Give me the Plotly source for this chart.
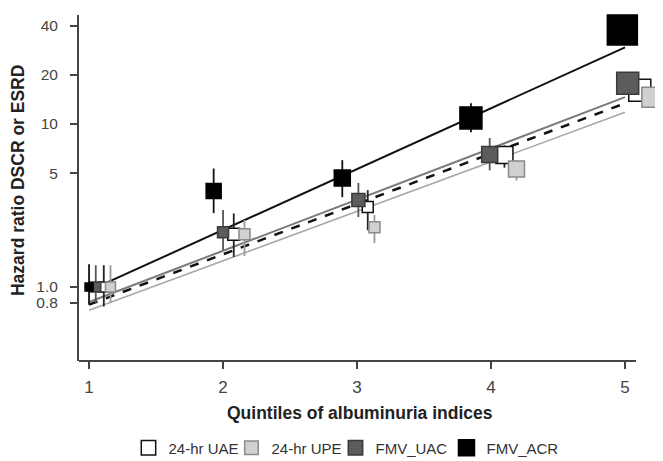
import plotly.graph_objects as go
import numpy as np

# ---- data ----
quintile_ticks = [1, 2, 3, 4, 5]
y_tickvals = [0.8, 1.0, 5, 10, 20, 40]
y_ticktext = ["0.8", "1.0", "5", "10", "20", "40"]

series_names = ["24-hr UAE", "24-hr UPE", "FMV_UAC", "FMV_ACR"]

# plotted x positions (quintile with small dodge offsets)
x_uae = [1.11, 2.08, 3.08, 4.10, 5.11]
x_upe = [1.16, 2.16, 3.13, 4.19, 5.20]
x_uac = [1.05, 2.00, 3.01, 3.99, 5.02]
x_acr = [1.00, 1.93, 2.89, 3.85, 4.98]

hr_uae = [1.0, 2.11, 3.10, 6.45, 16.1]
hr_upe = [1.0, 2.11, 2.33, 5.30, 14.6]
hr_uac = [1.0, 2.17, 3.42, 6.50, 17.8]
hr_acr = [1.0, 3.88, 4.66, 10.9, 37.7]

hi_uae = [1.36, 2.83, 3.93, 7.4, 18.0]
lo_uae = [0.76, 1.53, 2.23, 5.4, 14.0]
hi_upe = [1.36, 2.58, 2.77, 6.0, 16.5]
lo_upe = [0.80, 1.55, 1.86, 4.5, 13.0]
hi_uac = [1.36, 2.97, 4.35, 8.2, 20.0]
lo_uac = [0.80, 1.69, 2.69, 5.2, 16.0]
hi_acr = [1.38, 5.33, 6.00, 13.4, 42.0]
lo_acr = [0.78, 2.84, 3.56, 8.9, 34.0]

# marker sizes (weights)
size_uae = [10, 12, 11, 17, 22]
size_upe = [10, 11, 11, 16, 20]
size_uac = [10, 11, 13, 16, 22]
size_acr = [8, 15, 16, 22, 30]

# fitted trend lines (value at quintile 1 and 5)
trend_x = [1, 5]
trend_uae = [0.78, 13.4]
trend_upe = [0.72, 11.8]
trend_uac = [0.81, 14.6]
trend_acr = [0.95, 29.5]

# x-axis line extent (data units)
x_axis_start, x_axis_end = 0.925, 5.082

fig = go.Figure()

# trend lines
fig.add_trace(go.Scatter(x=trend_x, y=trend_upe, mode="lines", showlegend=False,
                         line=dict(color="#a8a8a8", width=1.6), hoverinfo="skip"))
fig.add_trace(go.Scatter(x=trend_x, y=trend_uac, mode="lines", showlegend=False,
                         line=dict(color="#7a7a7a", width=2), hoverinfo="skip"))
fig.add_trace(go.Scatter(x=trend_x, y=trend_uae, mode="lines", showlegend=False,
                         line=dict(color="#111111", width=2.5, dash="dash"), hoverinfo="skip"))
fig.add_trace(go.Scatter(x=trend_x, y=trend_acr, mode="lines", showlegend=False,
                         line=dict(color="#111111", width=2), hoverinfo="skip"))


def err(hr, hi, lo):
    return ([h - v for h, v in zip(hi, hr)], [v - l for v, l in zip(hr, lo)])


specs = [
    ("24-hr UAE", x_uae, hr_uae, hi_uae, lo_uae, size_uae, "#ffffff", "#111111", "#222222", 58),
    ("24-hr UPE", x_upe, hr_upe, hi_upe, lo_upe, size_upe, "#d0d0d0", "#8a8a8a", "#9a9a9a", 59),
    ("FMV_UAC", x_uac, hr_uac, hi_uac, lo_uac, size_uac, "#5c5c5c", "#3a3a3a", "#555555", 66),
    ("FMV_ACR", x_acr, hr_acr, hi_acr, lo_acr, size_acr, "#000000", "#000000", "#111111", 80),
]

for name, xs, ys, hi, lo, sz, fill, edge, ecol, lw in specs:
    up, dn = err(ys, hi, lo)
    fig.add_trace(go.Scatter(
        x=xs, y=ys, mode="markers", name=name, cliponaxis=False, legendwidth=lw,
        marker=dict(symbol="square", size=sz, color=fill, opacity=1,
                    line=dict(color=edge, width=1.5)),
        error_y=dict(type="data", symmetric=False, array=up, arrayminus=dn,
                     color=ecol, thickness=1.8, width=0),
    ))

# x-axis baseline that stops short of the dodged points beyond quintile 5
fig.add_shape(type="line", xref="x", yref="paper", x0=x_axis_start, x1=x_axis_end,
              y0=0, y1=0, line=dict(color="#444444", width=2), layer="above")

# page body has an 8px default margin: the figure is sized so that it fills the window
fig.update_layout(
    width=655, height=453,
    margin=dict(l=71, r=3, t=7, b=100, autoexpand=False),
    paper_bgcolor="white", plot_bgcolor="white",
    font=dict(family="Liberation Sans, Arial, sans-serif", color="#444444"),
    showlegend=True,
    legend=dict(orientation="h", x=0.4664, xanchor="center", y=-0.2514, yanchor="middle",
                font=dict(size=15, color="#333333"), itemsizing="trace",
                entrywidthmode="pixels",
                tracegroupgap=0, itemwidth=30, borderwidth=0),
    annotations=[
        dict(text="<b>Quintiles of albuminuria indices</b>", xref="paper", yref="paper",
             x=0.4837, y=-0.150, xanchor="center", yanchor="middle", showarrow=False,
             font=dict(size=17.5, color="#222222")),
        dict(text="<b>Hazard ratio DSCR or ESRD</b>", xref="paper", yref="paper",
             x=-0.105, y=0.523, xanchor="center", yanchor="middle", showarrow=False,
             textangle=-90, font=dict(size=17.5, color="#222222")),
    ],
)

fig.update_xaxes(
    range=[0.925, 5.261], tickvals=quintile_ticks, ticktext=[str(t) for t in quintile_ticks],
    showgrid=False, zeroline=False, showline=False,
    ticks="outside", ticklen=7, tickwidth=2, tickcolor="#444444",
    tickfont=dict(size=17, color="#444444"), ticklabelstandoff=4,
)
fig.update_yaxes(
    type="log", range=[np.log10(0.352), np.log10(46.6)],
    tickvals=y_tickvals, ticktext=y_ticktext,
    showgrid=False, zeroline=False, showline=True, linecolor="#444444", linewidth=2,
    ticks="outside", ticklen=7, tickwidth=2, tickcolor="#444444",
    tickfont=dict(size=15.5, color="#444444"), ticklabelstandoff=9,
)

fig.write_html("out.html")
